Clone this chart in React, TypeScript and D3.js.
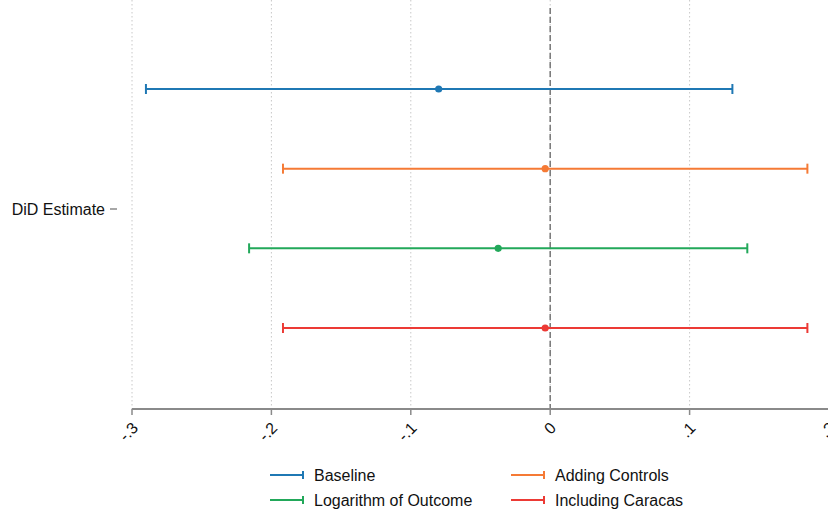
import React from "react";
import * as d3 from "d3";

const seriesNames = ["Baseline", "Adding Controls", "Logarithm of Outcome", "Including Caracas"];
const estimates = [-0.080, -0.0036, -0.0373, -0.0036];
const lowerCI = [-0.290, -0.1917, -0.2160, -0.1917];
const upperCI = [0.1307, 0.1845, 0.1414, 0.1845];
const colors = ["#1f78b4", "#f57a35", "#22a85a", "#ec3a35"];
const xTicks = [-0.3, -0.2, -0.1, 0, 0.1, 0.2];
const xTickLabels = ["-.3", "-.2", "-.1", "0", ".1", ".2"];
const categoryLabel = "DiD Estimate";

const W = 828;
const H = 510;
const FONT = "'Liberation Sans', Arial, sans-serif";

export default function App() {
  const x = d3.scaleLinear().domain([-0.3, 0.2]).range([132, 829]);
  const y = d3.scaleLinear().domain([0, 3]).range([89, 328]);
  const axisY = 409;
  const catY = 209;

  return (
    <svg width={W} height={H} style={{ position: "absolute", left: 0, top: 0, background: "#fff" }}>
      {xTicks.map((t, i) => (
        <line key={"g" + i} x1={x(t)} x2={x(t)} y1={0} y2={axisY} stroke="#c8c8c8" strokeWidth={1} strokeDasharray="1.5,2.5" />
      ))}
      <line x1={x(0)} x2={x(0)} y1={8} y2={axisY} stroke="#777" strokeWidth={1.5} strokeDasharray="6,3" />
      {seriesNames.map((s, i) => {
        const yy = y(i);
        return (
          <g key={s}>
            <line x1={x(lowerCI[i])} x2={x(upperCI[i])} y1={yy} y2={yy} stroke={colors[i]} strokeWidth={2} />
            <line x1={x(lowerCI[i])} x2={x(lowerCI[i])} y1={yy - 5} y2={yy + 5} stroke={colors[i]} strokeWidth={2} />
            <line x1={x(upperCI[i])} x2={x(upperCI[i])} y1={yy - 5} y2={yy + 5} stroke={colors[i]} strokeWidth={2} />
            <circle cx={x(estimates[i])} cy={yy} r={3.6} fill={colors[i]} />
          </g>
        );
      })}
      <line x1={x(-0.3)} x2={W} y1={axisY} y2={axisY} stroke="#8a8a8a" strokeWidth={2} />
      {xTicks.map((t, i) => (
        <g key={"t" + i}>
          <line x1={x(t)} x2={x(t)} y1={axisY} y2={axisY + 6} stroke="#8a8a8a" strokeWidth={1.5} />
          <text
            transform={`translate(${x(t) + 3},${axisY + 16}) rotate(-45)`}
            textAnchor="end"
            dy="0.35em"
            fontFamily={FONT}
            fontSize={16}
            fill="#111"
          >
            {xTickLabels[i]}
          </text>
        </g>
      ))}
      <line x1={110} x2={117} y1={catY} y2={catY} stroke="#8a8a8a" strokeWidth={1.5} />
      <text x={105} y={catY} dy="0.35em" textAnchor="end" fontFamily={FONT} fontSize={16} fill="#111">
        {categoryLabel}
      </text>
      {seriesNames.map((s, i) => {
        const col = i % 2;
        const row = Math.floor(i / 2);
        const lx = col === 0 ? 270 : 511;
        const ly = 475 + row * 25;
        return (
          <g key={"l" + i}>
            <line x1={lx} x2={lx + 33} y1={ly} y2={ly} stroke={colors[i]} strokeWidth={2} />
            <line x1={lx + 33} x2={lx + 33} y1={ly - 4} y2={ly + 4} stroke={colors[i]} strokeWidth={2} />
            <text x={lx + 44} y={ly} dy="0.35em" fontFamily={FONT} fontSize={16} fill="#111">
              {s}
            </text>
          </g>
        );
      })}
    </svg>
  );
}
